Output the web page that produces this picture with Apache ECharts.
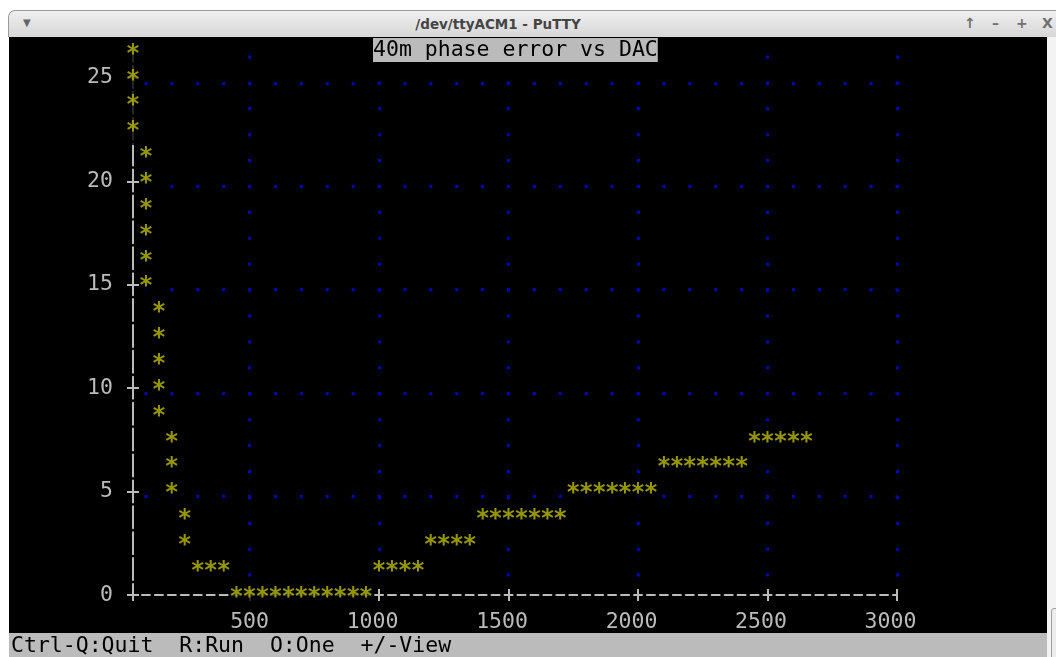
<!DOCTYPE html>
<html>
<head>
<meta charset="utf-8">
<script src="https://cdn.jsdelivr.net/npm/echarts@6/dist/echarts.min.js"></script>
<style>
  html, body { margin: 0; padding: 0; }
  body { width: 1056px; height: 657px; background: #ffffff; overflow: hidden; position: relative; font-family: 'DejaVu Sans', sans-serif; }
  #titlebar { position: absolute; left: 8px; top: 10px; width: 1048px; height: 27px; box-sizing: border-box;
    background: linear-gradient(#efefef, #d7d7d7); border-top: 1px solid #9a9a9a; border-left: 1px solid #9a9a9a; border-top-left-radius: 7px; }
  #wintitle { position: absolute; left: 0; width: 978px; top: 5px; text-align: center; font-size: 13.5px; font-weight: bold; color: #444; }
  #menuarrow { position: absolute; left: 14px; top: 6px; font-size: 10px; color: #666; }
  .btn { position: absolute; top: 4px; font-size: 14px; color: #707070; font-weight: bold; }
  #term { position: absolute; left: 9px; top: 37px; width: 1038px; height: 596px; background: #000; }
  #chart { position: absolute; left: 0; top: 0; width: 1038px; height: 596px; }
  #status { position: absolute; left: 9px; top: 633px; width: 1038px; height: 24px; background: #bbbbbb; color: #000;
    font-family: 'DejaVu Sans Mono', monospace; font-size: 21.5px; line-height: 24px; white-space: pre; padding-left: 2px; box-sizing: border-box; }
  #scroll { position: absolute; left: 1047px; top: 37px; width: 9px; height: 620px; background: #f3f3f3; }
  #thumb { position: absolute; left: 4px; top: 571px; width: 10px; height: 60px; border: 1px solid #a0a0a0; border-radius: 3px; background: #ececec; }
</style>
</head>
<body>
<div id="titlebar">
  <div id="menuarrow">&#9660;</div>
  <div id="wintitle">/dev/ttyACM1 - PuTTY</div>
  <div class="btn" style="left:955px">&#8593;</div>
  <div class="btn" style="left:983px">&#8211;</div>
  <div class="btn" style="left:1007px">+</div>
  <div class="btn" style="left:1033px">X</div>
</div>
<div id="term"><div id="chart"></div></div>
<div id="status">Ctrl-Q:Quit  R:Run  O:One  +/-View</div>
<div id="scroll"><div id="thumb"></div></div>
<script>
// ---- data ----
const chartTitle = '40m phase error vs DAC';
const dacValues = [
  50, 50, 50, 50,
  100, 100, 100, 100, 100, 100,
  150, 150, 150, 150, 150,
  200, 200, 200,
  250, 250,
  300, 350, 400,
  450, 500, 550, 600, 650, 700, 750, 800, 850, 900, 950,
  1000, 1050, 1100, 1150,
  1200, 1250, 1300, 1350,
  1400, 1450, 1500, 1550, 1600, 1650, 1700,
  1750, 1800, 1850, 1900, 1950, 2000, 2050,
  2100, 2150, 2200, 2250, 2300, 2350, 2400,
  2450, 2500, 2550, 2600, 2650
];
const phaseError = [
  26.25, 25, 23.75, 22.5,
  21.25, 20, 18.75, 17.5, 16.25, 15,
  13.75, 12.5, 11.25, 10, 8.75,
  7.5, 6.25, 5,
  3.75, 2.5,
  1.25, 1.25, 1.25,
  0, 0, 0, 0, 0, 0, 0, 0, 0, 0, 0,
  1.25, 1.25, 1.25, 1.25,
  2.5, 2.5, 2.5, 2.5,
  3.75, 3.75, 3.75, 3.75, 3.75, 3.75, 3.75,
  5, 5, 5, 5, 5, 5, 5,
  6.25, 6.25, 6.25, 6.25, 6.25, 6.25, 6.25,
  7.5, 7.5, 7.5, 7.5, 7.5
];
const xTickLabels = [500, 1000, 1500, 2000, 2500, 3000];
const xTickMarks = [50, 500, 1000, 1500, 2000, 2500, 3000];
const yTickLabels = [0, 5, 10, 15, 20, 25];
const yGridValues = [5, 10, 15, 20, 25];
const xMin = 50, xMax = 3000, yMin = 0, yMax = 26.25;

// ---- styling ----
const MONO = 'DejaVu Sans Mono';
const FS = 21.5;
const FG = '#bbbbbb';
const YEL = '#bbbb00';
const BLUE = '#0000bb';

const points = dacValues.map((x, i) => [x, phaseError[i]]);

const chart = echarts.init(document.getElementById('chart'), null, { renderer: 'canvas' });

const plotH = 544, plotW = 764;
const colW = plotW / 59;      // one character column (50 DAC units)
const rowH = plotH / 21;      // one character row (1.25 units)
// terminal dots sit on the text baseline, a few pixels below the cell centre
const dotDrop = 5;
const dropUnits = dotDrop * (yMax - yMin) / plotH;

chart.setOption({
  animation: false,
  backgroundColor: '#000',
  title: {
    text: chartTitle,
    left: 364, top: 1,
    padding: 0,
    backgroundColor: '#bbbbbb',
    textStyle: { color: '#000', fontFamily: MONO, fontSize: FS, fontWeight: 'normal', lineHeight: 24 }
  },
  grid: { left: 124, right: 150, top: 15, bottom: 37, containLabel: false },
  xAxis: [
    {
      type: 'value', position: 'bottom', min: xMin, max: xMax,
      axisLine: { show: true, onZero: false, lineStyle: { color: FG, width: 2, type: [8, colW - 8], dashOffset: 4 } },
      axisTick: { show: true, length: 6, customValues: xTickMarks, lineStyle: { color: FG, width: 2 } },
      axisLabel: {
        show: true, customValues: xTickLabels, margin: 14,
        formatter: v => (String(v).length > 3 ? '{w|' + v + '}' : '{n|' + v + '}'),
        rich: {
          n: { color: FG, fontFamily: MONO, fontSize: FS, lineHeight: 26 },
          w: { color: FG, fontFamily: MONO, fontSize: FS, lineHeight: 26, padding: [0, 13, 0, 0] }
        }
      },
      splitLine: { show: true, showMinLine: false, lineStyle: { color: BLUE, width: 3, type: [3, rowH - 3], dashOffset: rowH - dotDrop + 1.5 } }
    },
    {
      type: 'value', position: 'bottom', min: xMin, max: xMax,
      axisLine: { show: false },
      axisTick: { show: true, inside: true, length: 6, customValues: xTickMarks, lineStyle: { color: FG, width: 2 } },
      axisLabel: { show: false },
      splitLine: { show: false }
    }
  ],
  yAxis: [
    {
      type: 'value', position: 'left', min: yMin, max: yMax,
      axisLine: { show: true, onZero: false, lineStyle: { color: FG, width: 2, type: [22, rowH - 22], dashOffset: 11 } },
      axisTick: { show: true, length: 6, customValues: yTickLabels, lineStyle: { color: FG, width: 2 } },
      axisLabel: { show: true, customValues: yTickLabels, margin: 20, color: FG, fontFamily: MONO, fontSize: FS },
      splitLine: { show: false }
    },
    {
      type: 'value', position: 'left', min: yMin, max: yMax,
      axisLine: { show: false },
      axisTick: { show: true, inside: true, length: 6, customValues: yTickLabels, lineStyle: { color: FG, width: 2 } },
      axisLabel: { show: false },
      splitLine: { show: false }
    },
    {
      // carries only the dotted horizontal grid, dropped to the text baseline
      type: 'value', position: 'left', min: yMin + dropUnits, max: yMax + dropUnits,
      axisLine: { show: false },
      axisTick: { show: false, customValues: yGridValues },
      axisLabel: { show: false, customValues: yGridValues },
      splitLine: { show: true, lineStyle: { color: BLUE, width: 3, type: [3, 2 * colW - 3], dashOffset: colW + 1.5 } }
    }
  ],
  series: [{
    type: 'scatter',
    xAxisIndex: 0, yAxisIndex: 0,
    data: points,
    symbolSize: 0,
    silent: true,
    label: {
      show: true, position: 'inside', formatter: '*', offset: [0, 2.5],
      color: YEL, fontFamily: MONO, fontSize: 24, fontWeight: 'bold',
      backgroundColor: '#000', width: 13, height: 26, lineHeight: 26,
      align: 'center', verticalAlign: 'middle', padding: 0
    }
  }]
});
</script>
</body>
</html>
